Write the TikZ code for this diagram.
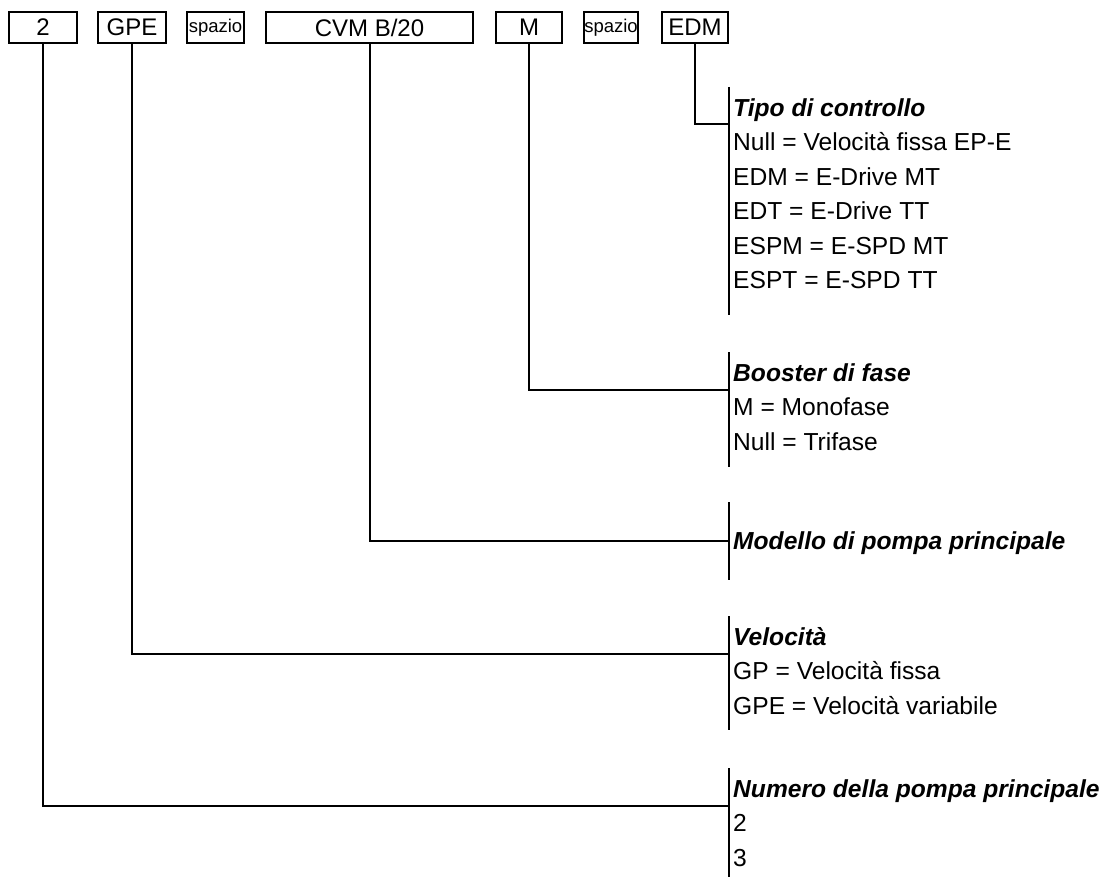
\documentclass[tikz,border=0pt]{standalone}
\usepackage{fontspec}
\setmainfont{Liberation Sans}
\usetikzlibrary{positioning}

\begin{document}
\begin{tikzpicture}[x=1pt, y=-1pt,
  code/.style={draw, line width=2pt, minimum height=31pt, inner sep=0pt, font=\fontsize{24}{28}\selectfont},
  small/.style={font=\fontsize{18.5}{20}\selectfont},
  link/.style={line width=2pt},
  legend/.style={anchor=north west, align=left, inner sep=0pt, font=\fontsize{24.6}{34.5}\selectfont}
]
  \useasboundingbox (0,0) rectangle (1105,877);
  % code boxes
  \node[code, minimum width=68pt] (num) at (43,27.5) {2};
  \node[code, minimum width=68pt] (gpe) at (132,27.5) {GPE};
  \node[code, small, minimum width=57pt] (spaceA) at (215.5,27.5) {spazio};
  \node[code, minimum width=207pt] (cvm) at (369.5,27.5) {CVM B/20};
  \node[code, minimum width=66pt] (mono) at (529,27.5) {M};
  \node[code, small, minimum width=54pt] (spaceB) at (611,27.5) {spazio};
  \node[code, minimum width=66pt] (edm) at (695,27.5) {EDM};

  % legend bars
  \coordinate (tipoTop) at (729,87);   \coordinate (tipoBot) at (729,315);
  \coordinate (boostTop) at (729,352); \coordinate (boostBot) at (729,467);
  \coordinate (modTop) at (729,502);   \coordinate (modBot) at (729,580);
  \coordinate (velTop) at (729,616);   \coordinate (velBot) at (729,730);
  \coordinate (numTop) at (729,768);   \coordinate (numBot) at (729,877);
  \coordinate (tipoJ) at (729,124);
  \coordinate (boostJ) at (729,390);
  \coordinate (modJ) at (729,541);
  \coordinate (velJ) at (729,654);
  \coordinate (numJ) at (729,806);

  \node[legend] (tipo) at (733,98) {\textbf{\textit{Tipo di controllo}}\\Null = Velocità fissa EP-E\\EDM = E-Drive MT\\EDT = E-Drive TT\\ESPM = E-SPD MT\\ESPT = E-SPD TT};
  \node[legend] (boost) at (733,363) {\textbf{\textit{Booster di fase}}\\M = Monofase\\Null = Trifase};
  \node[legend] (model) at (733,531) {\textbf{\textit{Modello di pompa principale}}};
  \node[legend] (speed) at (733,627) {\textbf{\textit{Velocità}}\\GP = Velocità fissa\\GPE = Velocità variabile};
  \node[legend] (count) at (733,779) {\textbf{\textit{Numero della pompa principale}}\\2\\3};

  \draw[link] (tipoTop) -- (tipoBot);
  \draw[link] (boostTop) -- (boostBot);
  \draw[link] (modTop) -- (modBot);
  \draw[link] (velTop) -- (velBot);
  \draw[link] (numTop) -- (numBot);

  % connectors
  \draw[link] (edm.south) |- (tipoJ);
  \draw[link] (mono.south) |- (boostJ);
  \draw[link] (cvm.south) |- (modJ);
  \draw[link] (gpe.south) |- (velJ);
  \draw[link] (num.south) |- (numJ);
\end{tikzpicture}
\end{document}
